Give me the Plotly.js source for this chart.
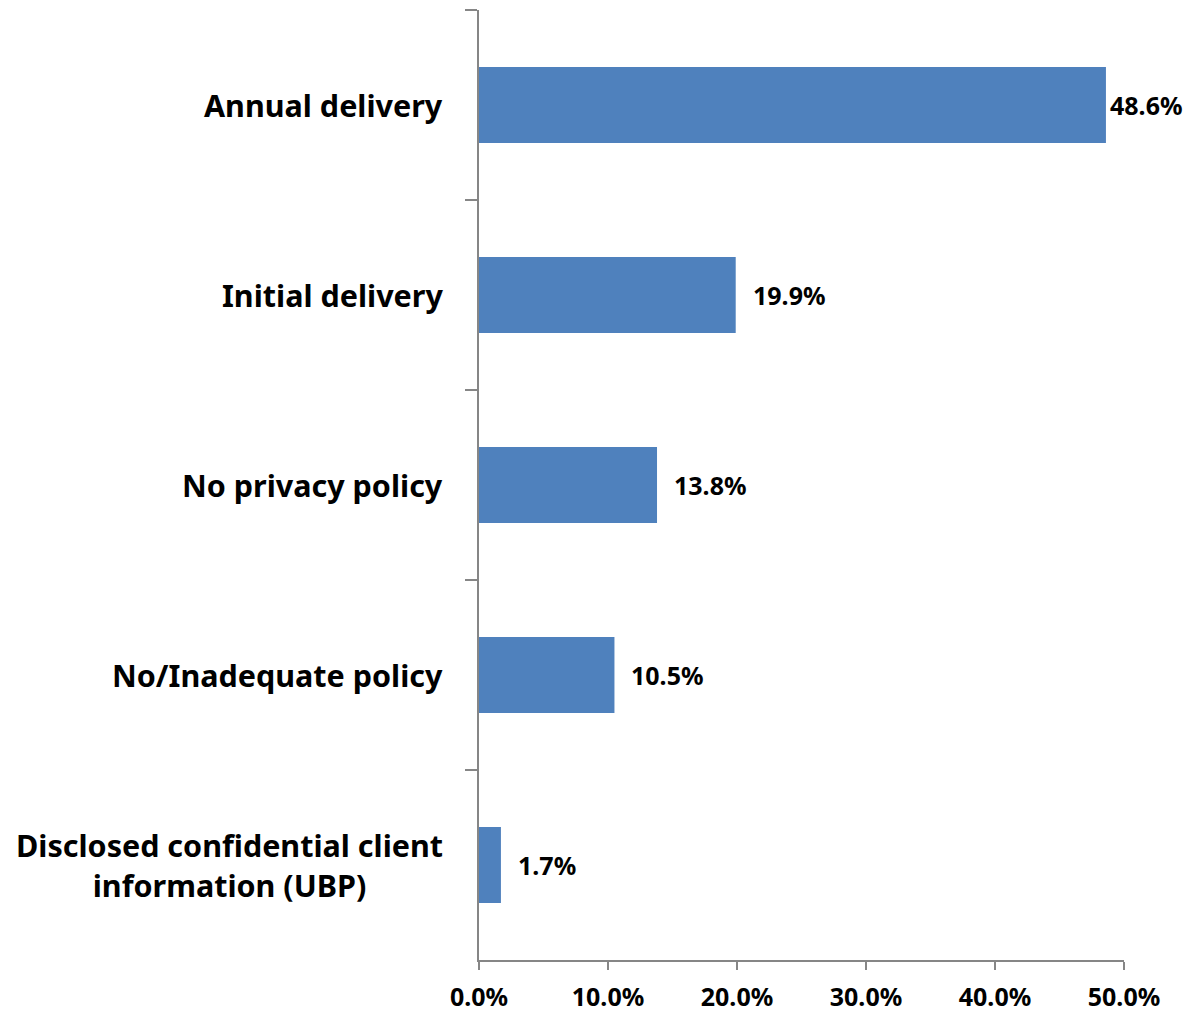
<!DOCTYPE html>
<html>
<head>
<meta charset="utf-8">
<script src="https://cdn.plot.ly/plotly-3.0.1.min.js"></script>
<style>html,body{margin:0;padding:0;background:#fff;}#chart{width:1186px;height:1016px;}</style>
</head>
<body>
<div id="chart"></div>
<script>
var categories = ["Annual delivery", "Initial delivery", "No privacy policy", "No/Inadequate policy", "Disclosed confidential client<br>information (UBP)"];
var values = [48.6, 19.9, 13.8, 10.5, 1.7];
var valueLabels = ["48.6%", "19.9%", "13.8%", "10.5%", "1.7%"];
var xTickVals = [0, 10, 20, 30, 40, 50];
var xTickText = ["0.0%", "10.0%", "20.0%", "30.0%", "40.0%", "50.0%"];

var FONT = "Noto Sans, Open Sans, Liberation Sans, sans-serif";
var W = 1186, ML = 479, MR = 62;
var plotW = W - ML - MR;
var xMax = 50;

var annotations = [];
// data labels
for (var i = 0; i < values.length; i++) {
  var endPx = ML + values[i] / xMax * plotW;
  var shift = Math.max(1, Math.min(15, W - 78 - endPx));
  annotations.push({
    x: values[i], y: categories[i], xref: 'x', yref: 'y',
    text: '<b>' + valueLabels[i] + '</b>', showarrow: false,
    xanchor: 'left', yanchor: 'middle', xshift: shift,
    font: {family: FONT, size: 25, color: '#000'}
  });
}
// category labels (center-aligned, like the original)
for (var j = 0; j < categories.length; j++) {
  annotations.push({
    x: 0, y: categories[j], xref: 'paper', yref: 'y',
    text: '<b>' + categories[j] + '</b>', showarrow: false,
    xanchor: 'right', yanchor: 'middle', xshift: -34, align: 'center',
    font: {family: FONT, size: 30.5, color: '#000'}
  });
}

var trace = {
  type: 'bar', orientation: 'h',
  x: values, y: categories,
  width: 0.4,
  marker: {color: '#4F81BD'},
  hoverinfo: 'none'
};

var layout = {
  width: 1186, height: 1016,
  margin: {l: ML, r: MR, t: 10, b: 56, pad: 0},
  paper_bgcolor: '#ffffff', plot_bgcolor: '#ffffff',
  showlegend: false,
  xaxis: {
    range: [0, xMax], tickvals: xTickVals, ticktext: xTickText,
    showgrid: false, zeroline: false,
    showline: true, linecolor: '#868686', linewidth: 2,
    ticks: 'outside', ticklen: 8, tickwidth: 2, tickcolor: '#868686',
    ticklabelstandoff: 6,
    tickfont: {family: FONT, size: 25, color: '#000', weight: 'bold'},
    fixedrange: true
  },
  yaxis: {
    type: 'category', categoryorder: 'array', categoryarray: categories,
    autorange: 'reversed',
    showticklabels: false,
    showgrid: false, zeroline: false,
    showline: true, linecolor: '#868686', linewidth: 2,
    ticks: 'outside', ticklen: 12, tickwidth: 2, tickcolor: '#868686',
    tickson: 'boundaries',
    fixedrange: true
  },
  annotations: annotations
};

Plotly.newPlot('chart', [trace], layout, {displayModeBar: false, staticPlot: true});
</script>
</body>
</html>
